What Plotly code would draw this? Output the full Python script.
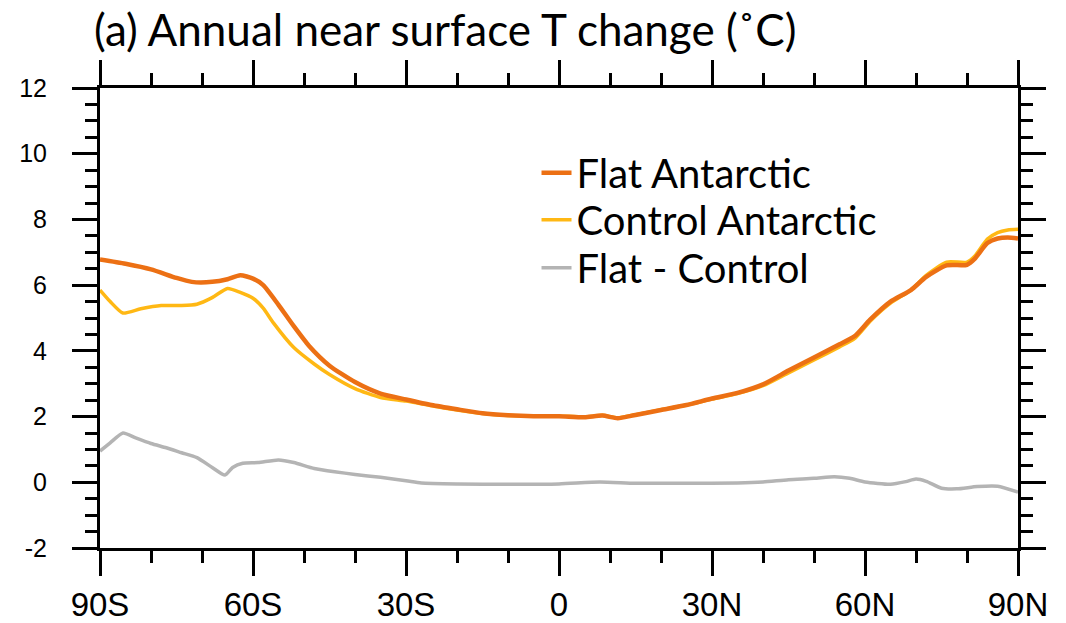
import plotly.graph_objects as go

# Zonal-mean annual near-surface temperature change (degC) by latitude
flat_lat = [-90, -85, -80, -75, -72, -68, -65, -62.5, -60, -58, -55, -52, -49, -45, -40, -35,
            -30, -25, -20, -15, -10, -5, 0, 5, 8.5, 11.5, 15, 20, 25, 30, 35, 40, 45, 50,
            55, 58, 61, 65, 69, 72, 76, 80, 81.5, 84, 86, 88, 90]
flat_dT = [6.78, 6.65, 6.48, 6.22, 6.10, 6.10, 6.18, 6.30, 6.20, 6.00, 5.40, 4.75, 4.15, 3.55,
           3.05, 2.70, 2.52, 2.35, 2.22, 2.10, 2.04, 2.01, 2.01, 1.98, 2.03, 1.95, 2.05, 2.20,
           2.35, 2.55, 2.72, 2.98, 3.40, 3.80, 4.20, 4.45, 4.95, 5.50, 5.85, 6.25, 6.60, 6.62,
           6.80, 7.28, 7.42, 7.45, 7.42]

ctrl_lat = [-90, -88, -85.5, -82, -78, -74, -71, -68, -65, -62.5, -60, -58, -56, -52, -48, -45,
            -40, -35, -30, -25, -20, -15, -10, -5, 0, 5, 8.5, 11.5, 15, 20, 25, 30, 35, 40,
            45, 50, 55, 58, 61, 65, 69, 72, 76, 80, 81.5, 84, 86, 88, 90]
ctrl_dT = [5.85, 5.50, 5.15, 5.28, 5.38, 5.38, 5.42, 5.62, 5.90, 5.78, 5.60, 5.30, 4.85, 4.10,
           3.60, 3.28, 2.85, 2.58, 2.47, 2.33, 2.20, 2.09, 2.03, 2.02, 2.02, 1.99, 2.04, 1.96,
           2.06, 2.21, 2.35, 2.53, 2.70, 2.94, 3.33, 3.72, 4.12, 4.38, 4.90, 5.45, 5.85, 6.30,
           6.70, 6.70, 6.88, 7.40, 7.60, 7.68, 7.70]

diff_lat = [-90, -88, -85.5, -83, -80, -77, -74, -71, -68, -65.5, -64, -62, -59, -55, -52, -48,
            -44, -40, -35, -30, -27, -20, -10, 0, 8, 15, 25, 35, 40, 45, 50, 54, 57, 60, 65,
            68, 70, 72, 75, 78, 82, 86, 90]
diff_dT = [0.95, 1.20, 1.50, 1.35, 1.18, 1.05, 0.90, 0.75, 0.45, 0.22, 0.45, 0.58, 0.60, 0.68,
           0.60, 0.42, 0.32, 0.24, 0.15, 0.05, -0.02, -0.05, -0.06, -0.05, 0.01, -0.03, -0.03,
           -0.02, 0.01, 0.08, 0.12, 0.17, 0.12, 0.01, -0.06, 0.02, 0.10, 0.03, -0.18, -0.20,
           -0.13, -0.12, -0.30]

lat_ticks = [-90, -60, -30, 0, 30, 60, 90]
lat_labels = ["90S", "60S", "30S", "0", "30N", "60N", "90N"]
y_ticks = [-2, 0, 2, 4, 6, 8, 10, 12]
y_labels = ["-2", "0", "2", "4", "6", "8", "10", "12"]

ORANGE = "#EC7014"
GOLD = "#FFB814"
GREY = "#B4B4B4"

fig = go.Figure()
fig.add_trace(go.Scatter(x=ctrl_lat, y=ctrl_dT, mode="lines", name="Control Antarctic",
                         line=dict(color=GOLD, width=3.5, shape="spline", smoothing=0.6),
                         legend="legend2"))
fig.add_trace(go.Scatter(x=flat_lat, y=flat_dT, mode="lines", name="Flat Antarctic",
                         line=dict(color=ORANGE, width=4.5, shape="spline", smoothing=0.6),
                         legend="legend"))
fig.add_trace(go.Scatter(x=diff_lat, y=diff_dT, mode="lines", name="Flat - Control",
                         line=dict(color=GREY, width=3.5, shape="spline", smoothing=0.6),
                         legend="legend3"))

axis_common = dict(
    showline=True, linewidth=3, linecolor="black", mirror="allticks",
    ticks="outside", ticklen=25, tickwidth=3, tickcolor="black",
    showgrid=False, zeroline=False, automargin=False,
)

fig.update_xaxes(
    range=[-90, 90], tickvals=lat_ticks, ticktext=lat_labels, ticklabelstandoff=0,
    tickfont=dict(family="Liberation Sans, Arial, sans-serif", size=33, color="black"),
    minor=dict(dtick=10, tick0=-90, ticks="outside", ticklen=12, tickwidth=2.5,
               tickcolor="black", showgrid=False),
    **axis_common,
)
fig.update_yaxes(
    range=[-2, 12], tickvals=y_ticks, ticktext=y_labels, ticklabelstandoff=20,
    tickfont=dict(family="Liberation Sans, Arial, sans-serif", size=25, color="black"),
    minor=dict(dtick=0.5, tick0=0, ticks="outside", ticklen=12, tickwidth=2.5,
               tickcolor="black", showgrid=False),
    **axis_common,
)

fig.add_annotation(
    text="(a) Annual near surface T change (˚C)",
    xref="paper", yref="paper", x=-0.009, y=1.189, xanchor="left", yanchor="top",
    showarrow=False, font=dict(family="Lato, sans-serif", size=44, color="black"),
)

legend_style = dict(x=0.4755, xanchor="left", yanchor="top",
                    font=dict(family="Lato, sans-serif", size=40, color="black"),
                    bgcolor="rgba(0,0,0,0)", borderwidth=0)

fig.update_layout(
    width=1066, height=623,
    margin=dict(l=100, r=48, t=88, b=75),
    plot_bgcolor="white", paper_bgcolor="white",
    showlegend=True,
    legend=dict(y=0.8865, **legend_style),
    legend2=dict(y=0.7843, **legend_style),
    legend3=dict(y=0.6800, **legend_style),
)

fig.write_html("out.html")
